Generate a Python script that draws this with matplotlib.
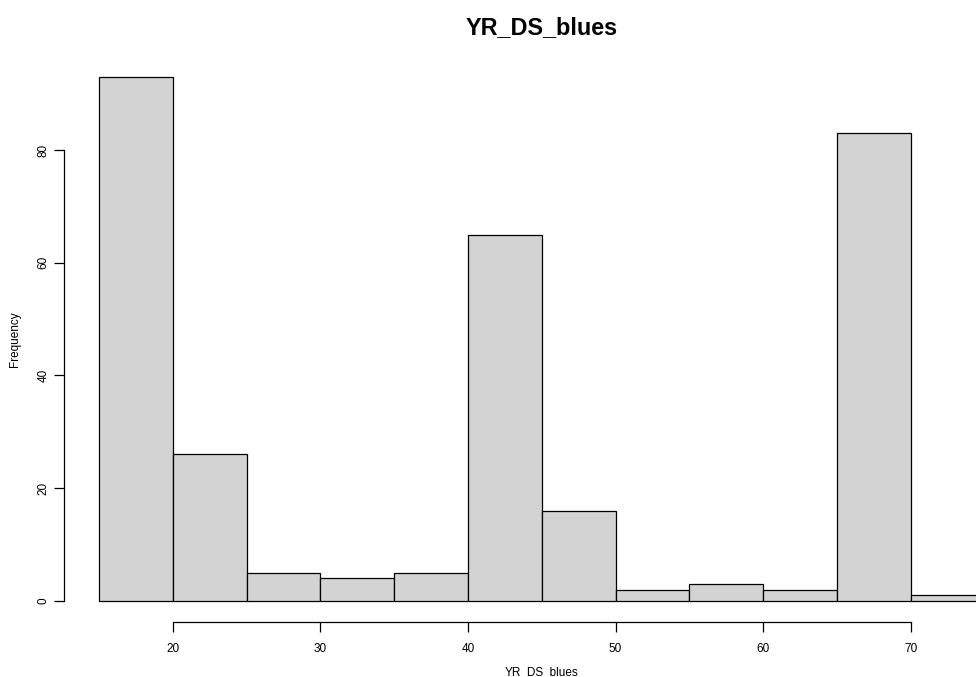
'''
Histogram of YR_DS_blues, R base-graphics look
'''

import numpy as np
import matplotlib
matplotlib.use('Agg')
import matplotlib.pyplot as plt

plt.rcParams['font.family'] = ['Liberation Sans', 'DejaVu Sans']

# bin edges and counts
breaks = [15, 20, 25, 30, 35, 40, 45, 50, 55, 60, 65, 70, 75]
counts = [93, 26, 5, 4, 5, 65, 16, 2, 3, 2, 83, 1]
xticks = [20, 30, 40, 50, 60, 70]
yticks = [0, 20, 40, 60, 80]

W, H = 976, 677
fig = plt.figure(figsize=(W/100, H/100), dpi=100)

# plot region as R places it (right side runs past the picture)
left, right = 63.6, 1020.0
top, bottom = 55.7, 622.0
ax = fig.add_axes([left/W, 1-bottom/H, (right-left)/W, (bottom-top)/H])

widths = np.diff(breaks)
ax.bar(breaks[:-1], counts, width=widths, align='edge',
       color='#d3d3d3', edgecolor='black', linewidth=0.9)

# R pads the range by 4%
xr = breaks[-1]-breaks[0]
ax.set_xlim(breaks[0]-0.04*xr, breaks[-1]+0.04*xr)
ymax = max(counts)
ax.set_ylim(-0.04*ymax, ymax*1.04)

for s in ['top', 'right']:
  ax.spines[s].set_visible(False)
ax.spines['left'].set_bounds(yticks[0], yticks[-1])
ax.spines['bottom'].set_bounds(xticks[0], xticks[-1])
for s in ['left', 'bottom']:
  ax.spines[s].set_linewidth(0.9)

ax.set_xticks(xticks)
ax.set_yticks(yticks)
ax.set_yticklabels([str(v) for v in yticks], rotation=90, va='center')
ax.tick_params(axis='both', length=7, width=0.9, labelsize=8.5, colors='black')
ax.tick_params(axis='x', pad=8)
ax.tick_params(axis='y', pad=3)

# axis labels placed where R puts them
fig.text(15/W, 1-((top+bottom)/2)/H, 'Frequency', ha='center', va='center',
         rotation=90, fontsize=8.5)
# x label sits at the bottom edge, underscores get cut off like the original
fig.text(((left+right)/2)/W, 1.5/H, 'YR_DS_blues', ha='center', va='baseline', fontsize=8.5)

fig.text(((left+right)/2)/W, 1-28/H, 'YR_DS_blues', ha='center', va='center',
         fontsize=16.8, fontweight='bold')

fig.savefig('out.png', dpi=100)
plt.close()
